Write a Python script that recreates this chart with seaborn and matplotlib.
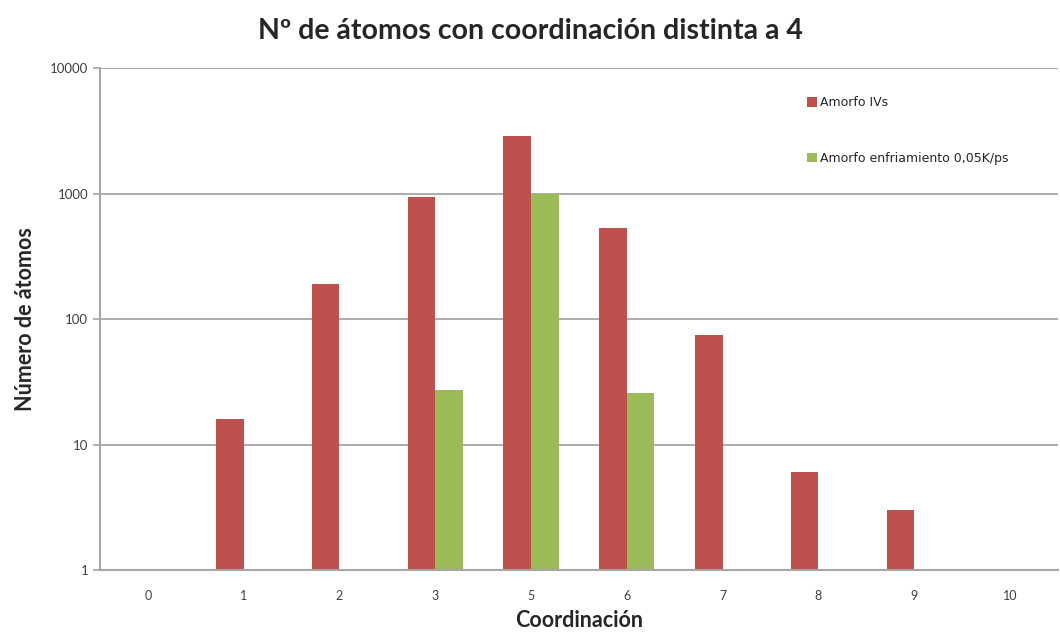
import numpy as np
import pandas as pd
import matplotlib
matplotlib.use("Agg")
import matplotlib.pyplot as plt
from matplotlib.patches import Patch
import seaborn as sns

# Coordination categories (coordination 4 is excluded)
coordinacion = ["0", "1", "2", "3", "5", "6", "7", "8", "9", "10"]
amorfo_ivs = [np.nan, 16, 190, 950, 2900, 530, 75, 6, 3, np.nan]
amorfo_enfriamiento = [np.nan, np.nan, np.nan, 27, 1000, 26, np.nan, np.nan, np.nan, np.nan]
series = ["Amorfo IVs", "Amorfo enfriamiento 0,05K/ps"]
colores = ["#C0504D", "#9BBB59"]

df = pd.concat([
    pd.DataFrame({"Coordinación": coordinacion, "Átomos": amorfo_ivs, "Serie": series[0]}),
    pd.DataFrame({"Coordinación": coordinacion, "Átomos": amorfo_enfriamiento, "Serie": series[1]}),
]).dropna()

sns.set_style("white")
plt.rcParams["font.family"] = ["Lato", "DejaVu Sans"]

fig = plt.figure(figsize=(10.6, 6.32), dpi=100)
ax = fig.add_axes([0.0943, 0.098, 0.9037, 0.794])

sns.barplot(data=df, x="Coordinación", y="Átomos", hue="Serie",
            order=coordinacion, hue_order=series, palette=colores,
            width=0.575, dodge=True, errorbar=None, ax=ax, legend=False,
            saturation=1, linewidth=0, edgecolor="none")

ax.set_yscale("log")
ax.set_ylim(1, 10000)
ax.set_xlim(-0.5, len(coordinacion) - 0.5)
ax.set_yticks([1, 10, 100, 1000, 10000])
ax.set_yticklabels(["1", "10", "100", "1000", "10000"])
ax.yaxis.set_minor_locator(matplotlib.ticker.NullLocator())

# Horizontal gridlines at each decade
ax.grid(axis="y", color="#A6A6A6", linewidth=1.3)
ax.set_axisbelow(True)

for s in ["top", "right"]:
    ax.spines[s].set_visible(False)
for s in ["left", "bottom"]:
    ax.spines[s].set_color("#A6A6A6")
    ax.spines[s].set_linewidth(1.5)

# Category boundary tick marks on the x axis
ax.set_xticks(np.arange(-0.5, len(coordinacion)), minor=True)
ax.tick_params(axis="x", which="minor", length=5, color="#A6A6A6", width=1.2)
ax.tick_params(axis="x", which="major", length=0, pad=14, labelsize=9, labelcolor="#404040")
ax.tick_params(axis="y", which="major", length=5, color="#A6A6A6", width=1.2,
               labelsize=9.5, labelcolor="#404040", left=True)

ax.set_xlabel("Coordinación", fontsize=15.5, fontweight="bold", labelpad=6)
ax.set_ylabel("Número de átomos", fontsize=15.5, fontweight="bold", labelpad=10)

fig.suptitle("Nº de átomos con coordinación distinta a 4", fontsize=20.5,
             fontweight="bold", x=0.5, y=0.972)

handles = [Patch(facecolor=c, edgecolor="none") for c in colores]
ax.legend(handles, series, loc="upper left", bbox_to_anchor=(0.738, 0.944),
          frameon=False, prop={"family": "DejaVu Sans", "size": 9},
          handlelength=0.8, handleheight=0.8, handletextpad=0.25,
          labelspacing=3.4, borderaxespad=0, borderpad=0)

fig.savefig("out.png", dpi=100)
